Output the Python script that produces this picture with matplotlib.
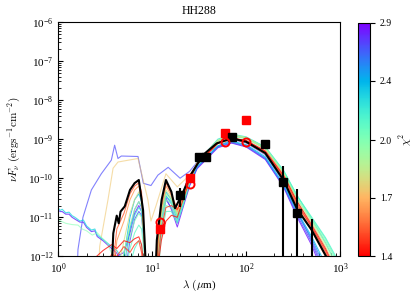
import matplotlib
matplotlib.use("Agg")
import matplotlib.pyplot as plt
import numpy as np
from matplotlib.colors import LogNorm
from matplotlib.cm import ScalarMappable

plt.rcParams['font.family'] = ['Liberation Serif', 'DejaVu Serif']
plt.rcParams['mathtext.fontset'] = 'cm'

# common wavelength grid (micron) of the model SEDs
lam = [2.3, 3.0, 3.7, 4.2, 5.0, 5.8, 6.5, 7.2, 7.7, 8.2, 8.8, 9.7, 10.8, 11.5, 12.5,
       14.0, 16.0, 18.5, 21, 25, 30, 50, 70, 100, 160, 250, 350, 500, 700, 1000]

# model SEDs, log10(nuF_nu / erg s-1 cm-2), with their chi2
chi_r1 = 1.42
sed_r1 = [-12.1, -11.85, -11.7, -11.8, -11.6, -11.65, -11.55, -11.5, -11.7, -12.3, -13, -14,
          -13, -12.3, -11.6, -11.1, -10.95, -11.0, -10.6, -10.05, -9.65, -9.1, -8.97, -9.03,
          -9.3, -9.92, -10.6, -11.2, -11.8, -12.6]
chi_r2 = 1.48
sed_r2 = [-14, -12.3, -11.95, -12.0, -11.75, -11.9, -11.7, -11.6, -11.9, -12.6, -14, -14,
          -13, -12.1, -11.3, -10.75, -10.7, -10.8, -10.5, -10.0, -9.63, -9.1, -8.97, -9.04,
          -9.32, -9.95, -10.65, -11.25, -11.85, -12.7]
chi_u1 = 1.52
sed_u1 = [-14, -14, -12.5, -11.3, -10.9, -10.4, -10.2, -10.12, -10.35, -11.5, -13, -14,
          -13, -11.6, -10.7, -10.12, -10.4, -10.8, -10.45, -10.0, -9.62, -9.1, -8.97, -9.05,
          -9.33, -9.98, -10.7, -11.25, -11.9, -12.8]
chi_u2 = 1.62
sed_u2 = [-14, -14, -13, -11.6, -11.1, -10.55, -10.3, -10.2, -10.45, -11.6, -13, -14,
          -13, -11.7, -10.8, -10.2, -10.45, -10.85, -10.5, -10.02, -9.63, -9.12, -9.0, -9.08,
          -9.38, -10.05, -10.75, -11.35, -12.0, -13]
chi_g1 = 1.8
sed_g1 = [-14, -14, -14, -12.5, -11.6, -10.9, -10.55, -10.35, -10.5, -11.3, -12.8, -14,
          -13, -11.8, -10.9, -10.3, -10.5, -10.9, -10.55, -10.02, -9.6, -9.05, -8.9, -8.97,
          -9.25, -9.88, -10.6, -11.15, -11.75, -12.5]
chi_g2 = 1.9
sed_g2 = [-14, -14, -14, -13, -11.9, -11.2, -10.8, -10.6, -10.7, -11.4, -12.9, -14,
          -13, -11.9, -11.0, -10.4, -10.55, -10.95, -10.6, -10.04, -9.6, -9.02, -8.88, -8.95,
          -9.22, -9.85, -10.55, -11.1, -11.68, -12.4]
chi_g3 = 2.0
sed_g3 = [-14, -14, -14, -13.5, -12.2, -11.5, -11.1, -10.9, -11.0, -11.6, -13, -14,
          -13.5, -12.1, -11.15, -10.55, -10.65, -11.0, -10.65, -10.08, -9.62, -9.05, -8.92,
          -8.99, -9.25, -9.86, -10.52, -11.06, -11.6, -12.3]
chi_g4 = 2.1
sed_g4 = [-14, -14, -14, -14, -12.6, -11.8, -11.4, -11.2, -11.3, -11.9, -13.2, -14,
          -13.5, -12.3, -11.3, -10.7, -10.75, -11.1, -10.7, -10.1, -9.62, -9.03, -8.9,
          -8.96, -9.2, -9.8, -10.45, -11.02, -11.55, -12.25]
chi_g5 = 2.15
sed_g5 = [-14, -14, -14, -14, -13, -12.2, -11.8, -11.6, -11.7, -12.3, -13.5, -14,
          -14, -12.5, -11.5, -10.85, -10.85, -11.15, -10.75, -10.13, -9.64, -9.04, -8.91,
          -8.98, -9.22, -9.82, -10.46, -11.0, -11.52, -12.2]
chi_c1 = 2.25
sed_c1 = [-14, -14, -14, -13, -11.9, -11.3, -10.95, -10.75, -10.85, -11.5, -13, -14,
          -13.2, -12, -11.05, -10.45, -10.6, -11.0, -10.65, -10.08, -9.6, -9.0, -8.87,
          -8.94, -9.2, -9.8, -10.45, -11.05, -11.65, -12.4]
chi_b1 = 2.4
sed_b1 = [-14, -14, -14, -13, -12, -11.0, -10.55, -10.4, -10.6, -11.5, -13, -14,
          -13, -11.9, -10.95, -10.35, -10.55, -10.95, -10.6, -10.1, -9.7, -9.17, -9.05,
          -9.14, -9.45, -10.15, -10.85, -11.5, -12.2, -13.2]
chi_b2 = 2.55
sed_b2 = [-14, -14, -14, -13.5, -12.3, -11.3, -10.8, -10.6, -10.75, -11.6, -13, -14,
          -13, -12.0, -11.05, -10.45, -10.65, -11.05, -10.7, -10.14, -9.72, -9.18, -9.07,
          -9.16, -9.48, -10.18, -10.9, -11.55, -12.3, -13.5]
chi_b3 = 2.7
sed_b3 = [-14, -14, -14, -14, -12.6, -11.6, -11.05, -10.85, -10.95, -11.7, -13.2, -14,
          -13.5, -12.2, -11.2, -10.55, -10.75, -11.15, -10.75, -10.17, -9.74, -9.2, -9.09,
          -9.18, -9.5, -10.2, -10.95, -11.65, -12.5, -14]
chi_v1 = 2.85
sed_v1 = [-14, -14, -12.2, -12.0, -11.9, -11.4, -10.9, -10.7, -10.85, -11.6, -13, -14,
          -13.2, -12.1, -11.1, -10.5, -10.8, -11.25, -10.8, -10.2, -9.76, -9.22, -9.1,
          -9.2, -9.52, -10.22, -11.0, -11.72, -12.6, -14]

# outlying models (nuF_nu)
lam_blue = [1.55, 1.62, 1.83, 2.25, 2.87, 3.67, 3.98, 4.32, 4.69, 7.06, 8.05, 9.7,
            11.5, 14.8, 19.8, 25, 35, 70, 100, 160, 250, 350, 500, 700]
sed_blue = [1e-13, 1.5e-12, 1e-11, 5e-11, 1.3e-10, 2.9e-10, 7e-10, 3.2e-10, 3.7e-10,
            3.6e-10, 7.4e-11, 6.5e-11, 1.2e-10, 1.9e-10, 1e-10, 1.5e-10, 4e-10, 1e-9,
            8e-10, 4e-10, 8e-11, 1.4e-11, 2.5e-12, 4e-13]
chi_blue = 2.7
lam_orange = [2.6, 2.76, 3.38, 3.83, 4.32, 7.06, 9.0, 9.7, 11, 14, 18.5, 25, 35, 70,
              100, 160, 250, 350, 500, 700]
sed_orange = [1e-13, 1.8e-12, 2.8e-11, 1.8e-10, 2.6e-10, 3.2e-10, 2.8e-11, 8e-12, 2e-11,
              1.3e-10, 6e-11, 1.2e-10, 4e-10, 1.05e-9, 8.8e-10, 4.6e-10, 1e-10, 2e-11,
              4.5e-12, 1.1e-12]
chi_orange = 1.72
lam_cyan = [1.0, 1.05, 1.1, 1.2, 1.3, 1.4, 1.5, 1.7, 1.85, 2.0, 2.25, 2.45, 2.6, 3.0,
            3.4, 3.8, 4.2, 4.6, 5.0]
sed_cyan = [1.7e-11, 1.5e-11, 1.6e-11, 1.3e-11, 1.35e-11, 1.1e-11, 1e-11, 8e-12, 8.5e-12,
            6e-12, 4.7e-12, 5e-12, 3.5e-12, 2.7e-12, 2.1e-12, 1.7e-12, 1.4e-12, 1e-12, 5e-13]
chi_cyan = 2.3
sed_violet = [1.5e-11, 1.4e-11, 1.4e-11, 1.2e-11, 1.2e-11, 1e-11, 9e-12, 7.5e-12, 7.5e-12,
              5.5e-12, 4.3e-12, 4.5e-12, 3.2e-12, 2.5e-12, 1.9e-12, 1.5e-12, 1.2e-12,
              8e-13, 4e-13]
chi_violet = 2.8
lam_green = [1.0, 1.2, 1.4, 1.62, 1.8, 2.0, 2.3, 2.6, 2.9, 3.3, 3.7, 4.0]
sed_green = [8.5e-12, 7e-12, 6.5e-12, 6.3e-12, 5e-12, 4.5e-12, 3.5e-12, 4e-12, 3e-12,
             2.2e-12, 1.2e-12, 5e-13]
chi_green = 2.0

# best fit model
lam_best = [3.6, 3.85, 4.19, 4.4, 4.6, 5.1, 5.8, 6.5, 7.2, 8.0, 8.4, 8.8, 10.6, 11.2,
            12.6, 14.0, 16.0, 17.5, 21, 25, 35, 48.6, 70, 100, 160, 250, 350, 500, 710, 800]
sed_best = [1e-13, 3.9e-12, 1.1e-11, 7e-12, 1.4e-11, 1.9e-11, 5e-11, 7.5e-11, 9e-11,
            1.5e-11, 1.4e-12, 1e-13, 1e-13, 2.6e-12, 2.8e-11, 9e-11, 4.5e-11, 1.7e-11,
            4e-11, 1.1e-10, 4e-10, 7.8e-10, 1.05e-9, 8.6e-10, 4.4e-10, 9e-11, 1.6e-11,
            4.7e-12, 1e-12, 3e-13]

# photometry
lam_red = [12, 25, 60, 100]
flux_red = [5.0e-12, 1.0e-10, 1.46e-9, 3.1e-9]
flux_model = [7.5e-12, 7.1e-11, 8.3e-10, 8.3e-10]
lam_obs = [19.7, 31.5, 37.1, 70, 160, 250, 350, 500]
flux_obs = [3.7e-11, 3.5e-10, 3.4e-10, 1.16e-9, 7.4e-10, 8.1e-11, 1.31e-11, 5e-13]
err_obs = [1.9e-11, 0, 0, 0, 1.2e-10, 1.24e-10, 3.9e-11, 8.4e-12]

cmap = plt.get_cmap('rainbow_r')
norm = LogNorm(vmin=1.4, vmax=2.9)

fig = plt.figure(figsize=(4.15, 2.98), dpi=100)
ax = fig.add_axes([0.1405, 0.1399, 0.6788, 0.7862])
cax = fig.add_axes([0.8627, 0.1399, 0.0289, 0.784])

# worst fits first so that the best ones end up on top
seds = [(chi_v1, sed_v1), (chi_b3, sed_b3), (chi_b2, sed_b2), (chi_b1, sed_b1),
        (chi_c1, sed_c1), (chi_g5, sed_g5), (chi_g4, sed_g4), (chi_g3, sed_g3),
        (chi_g2, sed_g2), (chi_g1, sed_g1), (chi_u2, sed_u2), (chi_u1, sed_u1),
        (chi_r2, sed_r2), (chi_r1, sed_r1)]
ax.plot(lam_blue, sed_blue, color=cmap(norm(chi_blue)), lw=0.8, alpha=0.7)
ax.plot(lam_orange, sed_orange, color=cmap(norm(chi_orange)), lw=0.8, alpha=0.6)
ax.plot(lam_cyan, sed_violet, color=cmap(norm(chi_violet)), lw=0.8, alpha=0.8)
ax.plot(lam_cyan, sed_cyan, color=cmap(norm(chi_cyan)), lw=0.8, alpha=0.8)
ax.plot(lam_green, sed_green, color=cmap(norm(chi_green)), lw=0.8, alpha=0.6)
for chi, sed in seds:
    ax.plot(lam, 10**np.array(sed), color=cmap(norm(chi)), lw=0.75, alpha=0.8)
ax.plot(lam_best, sed_best, color='k', lw=1.5)

ax.plot(lam_red, flux_red, 's', color='red', ms=5.8, zorder=5)
ax.errorbar(lam_obs, flux_obs, yerr=err_obs, fmt='s', color='k', ms=5.5, elinewidth=1.5,
            capsize=0, zorder=6)
ax.plot(lam_red, flux_model, 'o', mfc='none', mec='red', ms=5.8, mew=1.4, zorder=7)

ax.set_xscale('log')
ax.set_yscale('log')
ax.set_xlim(1, 1000)
ax.set_ylim(1e-12, 1e-6)
ax.tick_params(which='both', direction='in', labelsize=8)
ax.set_xlabel(r'$\lambda\ (\mu$m)', fontsize=8, labelpad=1)
ax.set_ylabel(r'$\nu F_\nu\ (\rm erg s^{-1} cm^{-2})$', fontsize=8)
ax.set_title('HH288', fontsize=8.5)

cbar = fig.colorbar(ScalarMappable(norm=norm, cmap=cmap), cax=cax)
cbar.ax.minorticks_off()
cbar.set_ticks([1.4, 1.68, 2.01, 2.42, 2.9])
cbar.set_ticklabels(['1.4', '1.7', '2.0', '2.4', '2.9'])
cbar.ax.tick_params(labelsize=7)
cbar.set_label(r'$\chi^2$', fontsize=8)

fig.savefig('out.png', dpi=100)
